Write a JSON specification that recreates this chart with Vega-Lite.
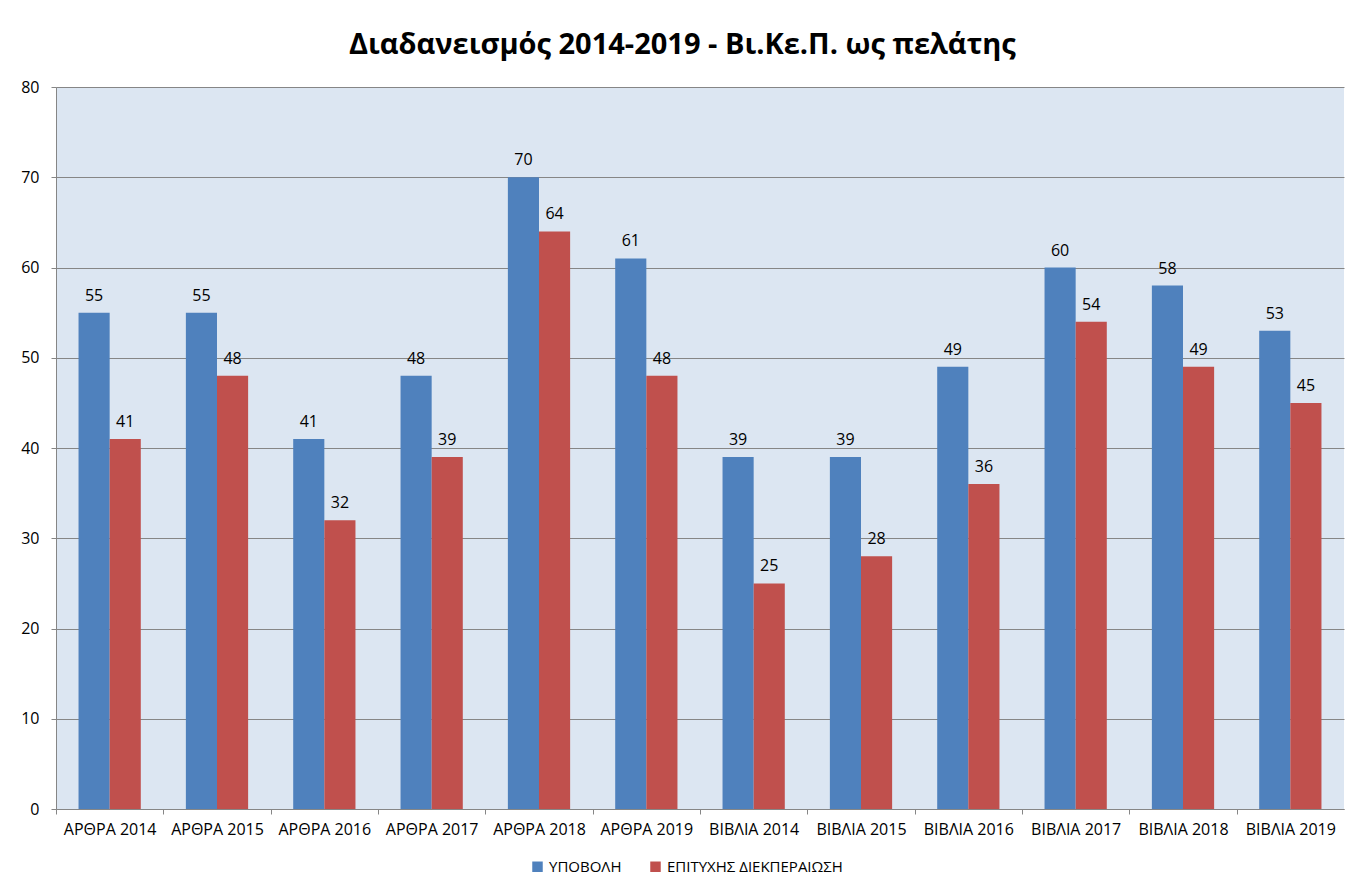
{
  "$schema": "https://vega.github.io/schema/vega-lite/v6.json",
  "width": 1288,
  "height": 722,
  "autosize": {"type": "none"},
  "padding": {"left": 56, "top": 87, "right": 18, "bottom": 83},
  "background": "white",
  "title": {
    "text": "Διαδανεισμός 2014-2019 - Βι.Κε.Π. ως πελάτης",
    "font": "Open Sans",
    "fontSize": 29,
    "fontWeight": "bold",
    "color": "#000000",
    "anchor": "middle",
    "frame": "bounds",
    "offset": 19
  },
  "config": {
    "font": "Open Sans",
    "view": {"fill": "#DCE6F2", "stroke": null}
  },
  "data": {
    "values": [
      {"cat": "ΑΡΘΡΑ 2014", "series": "ΥΠΟΒΟΛΗ", "value": 55},
      {"cat": "ΑΡΘΡΑ 2014", "series": "ΕΠΙΤΥΧΗΣ ΔΙΕΚΠΕΡΑΙΩΣΗ", "value": 41},
      {"cat": "ΑΡΘΡΑ 2015", "series": "ΥΠΟΒΟΛΗ", "value": 55},
      {"cat": "ΑΡΘΡΑ 2015", "series": "ΕΠΙΤΥΧΗΣ ΔΙΕΚΠΕΡΑΙΩΣΗ", "value": 48},
      {"cat": "ΑΡΘΡΑ 2016", "series": "ΥΠΟΒΟΛΗ", "value": 41},
      {"cat": "ΑΡΘΡΑ 2016", "series": "ΕΠΙΤΥΧΗΣ ΔΙΕΚΠΕΡΑΙΩΣΗ", "value": 32},
      {"cat": "ΑΡΘΡΑ 2017", "series": "ΥΠΟΒΟΛΗ", "value": 48},
      {"cat": "ΑΡΘΡΑ 2017", "series": "ΕΠΙΤΥΧΗΣ ΔΙΕΚΠΕΡΑΙΩΣΗ", "value": 39},
      {"cat": "ΑΡΘΡΑ 2018", "series": "ΥΠΟΒΟΛΗ", "value": 70},
      {"cat": "ΑΡΘΡΑ 2018", "series": "ΕΠΙΤΥΧΗΣ ΔΙΕΚΠΕΡΑΙΩΣΗ", "value": 64},
      {"cat": "ΑΡΘΡΑ 2019", "series": "ΥΠΟΒΟΛΗ", "value": 61},
      {"cat": "ΑΡΘΡΑ 2019", "series": "ΕΠΙΤΥΧΗΣ ΔΙΕΚΠΕΡΑΙΩΣΗ", "value": 48},
      {"cat": "ΒΙΒΛΙΑ 2014", "series": "ΥΠΟΒΟΛΗ", "value": 39},
      {"cat": "ΒΙΒΛΙΑ 2014", "series": "ΕΠΙΤΥΧΗΣ ΔΙΕΚΠΕΡΑΙΩΣΗ", "value": 25},
      {"cat": "ΒΙΒΛΙΑ 2015", "series": "ΥΠΟΒΟΛΗ", "value": 39},
      {"cat": "ΒΙΒΛΙΑ 2015", "series": "ΕΠΙΤΥΧΗΣ ΔΙΕΚΠΕΡΑΙΩΣΗ", "value": 28},
      {"cat": "ΒΙΒΛΙΑ 2016", "series": "ΥΠΟΒΟΛΗ", "value": 49},
      {"cat": "ΒΙΒΛΙΑ 2016", "series": "ΕΠΙΤΥΧΗΣ ΔΙΕΚΠΕΡΑΙΩΣΗ", "value": 36},
      {"cat": "ΒΙΒΛΙΑ 2017", "series": "ΥΠΟΒΟΛΗ", "value": 60},
      {"cat": "ΒΙΒΛΙΑ 2017", "series": "ΕΠΙΤΥΧΗΣ ΔΙΕΚΠΕΡΑΙΩΣΗ", "value": 54},
      {"cat": "ΒΙΒΛΙΑ 2018", "series": "ΥΠΟΒΟΛΗ", "value": 58},
      {"cat": "ΒΙΒΛΙΑ 2018", "series": "ΕΠΙΤΥΧΗΣ ΔΙΕΚΠΕΡΑΙΩΣΗ", "value": 49},
      {"cat": "ΒΙΒΛΙΑ 2019", "series": "ΥΠΟΒΟΛΗ", "value": 53},
      {"cat": "ΒΙΒΛΙΑ 2019", "series": "ΕΠΙΤΥΧΗΣ ΔΙΕΚΠΕΡΑΙΩΣΗ", "value": 45}
    ]
  },
  "encoding": {
    "x": {
      "field": "cat",
      "type": "nominal",
      "sort": null,
      "title": null,
      "scale": {"paddingInner": 0.42, "paddingOuter": 0.21},
      "axis": {
        "labelAngle": 0,
        "labelPadding": 7,
        "tickOffset": -53.7,
        "labelOffset": 53.7,
        "tickSize": 5,
        "labelFont": "Open Sans",
        "labelFontSize": 16,
        "labelLimit": 200,
        "labelColor": "#000000",
        "domainColor": "#868686",
        "tickColor": "#868686"
      }
    },
    "xOffset": {
      "field": "series",
      "type": "nominal",
      "sort": ["ΥΠΟΒΟΛΗ", "ΕΠΙΤΥΧΗΣ ΔΙΕΚΠΕΡΑΙΩΣΗ"],
      "scale": {"paddingInner": 0, "paddingOuter": 0}
    },
    "y": {
      "field": "value",
      "type": "quantitative",
      "title": null,
      "scale": {"domain": [0, 80], "nice": false},
      "axis": {
        "values": [0, 10, 20, 30, 40, 50, 60, 70, 80],
        "tickSize": 5,
        "labelPadding": 12,
        "labelFont": "Open Sans",
        "labelFontSize": 16,
        "labelColor": "#000000",
        "domainColor": "#868686",
        "tickColor": "#868686",
        "gridColor": "#868686",
        "grid": true
      }
    }
  },
  "layer": [
    {
      "mark": {"type": "bar"},
      "encoding": {
        "color": {
          "field": "series",
          "type": "nominal",
          "sort": ["ΥΠΟΒΟΛΗ", "ΕΠΙΤΥΧΗΣ ΔΙΕΚΠΕΡΑΙΩΣΗ"],
          "scale": {"domain": ["ΥΠΟΒΟΛΗ", "ΕΠΙΤΥΧΗΣ ΔΙΕΚΠΕΡΑΙΩΣΗ"], "range": ["#4F81BD", "#C0504D"]},
          "legend": {
            "orient": "none",
            "legendX": 474,
            "legendY": 772,
            "direction": "horizontal",
            "title": null,
            "symbolType": "square",
            "symbolSize": 110,
            "symbolStrokeWidth": 0,
            "columnPadding": 26,
            "labelFont": "Open Sans",
            "labelFontSize": 15,
            "labelLimit": 400,
            "labelColor": "#000000"
          }
        }
      }
    },
    {
      "mark": {"type": "text", "baseline": "bottom", "dy": -9, "fontSize": 16, "font": "Open Sans", "color": "#000000"},
      "encoding": {
        "text": {"field": "value", "type": "quantitative"}
      }
    }
  ]
}
